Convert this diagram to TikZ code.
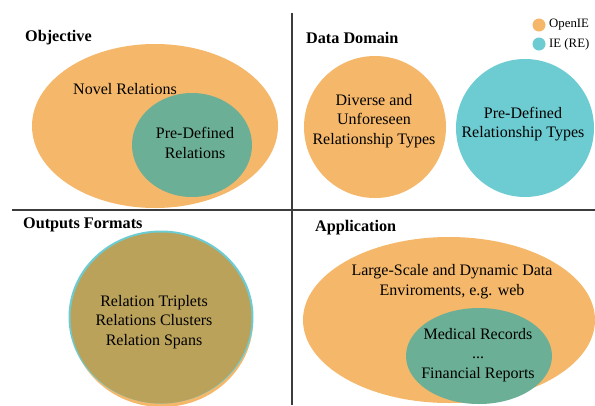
\documentclass[tikz,border=0pt]{standalone}
\usepackage{fontspec}
\setmainfont{Liberation Serif}
\definecolor{oie}{RGB}{245,184,106}
\definecolor{ie}{RGB}{108,204,210}
\definecolor{both}{RGB}{107,175,150}
\definecolor{olive}{RGB}{187,162,90}
\definecolor{divider}{RGB}{60,60,60}
\begin{document}
\begin{tikzpicture}[x=1pt,y=-1pt,
  txt/.style={font=\rmfamily\fontsize{16}{19.8}\selectfont, align=center, inner sep=0pt},
  ttl/.style={font=\rmfamily\fontsize{16.2}{19}\selectfont\bfseries, anchor=west, inner sep=0pt},
  lgd/.style={font=\rmfamily\fontsize{12.8}{15}\selectfont, anchor=west, inner sep=0pt},
  divline/.style={draw=divider, line width=1.1pt}]
\useasboundingbox[fill=white] (0,0) rectangle (595,405);
% dividers
\coordinate (vt) at (292,13);
\coordinate (vb) at (292,405);
\coordinate (hl) at (12,210);
\coordinate (hr) at (595,210);
\draw[divline] (vt) -- (vb);
\draw[divline] (hl) -- (hr);
% Objective
\node[ttl] (t1) at (25,38) {Objective};
\fill[oie] (155,126) ellipse [x radius=123, y radius=82];
\fill[both] (192,145) ellipse [x radius=60, y radius=52];
\node[txt] (nov) at (125,89) {Novel Relations};
\node[txt] (pre1) at (195,143) {Pre-Defined\\Relations};
% Data Domain
\node[ttl] (t2) at (306,38) {Data Domain};
\fill[oie] (375,127) circle [radius=71];
\fill[ie] (525,128) circle [radius=69];
\node[txt] (div) at (374,121) {Diverse and\\Unforeseen\\Relationship Types};
\node[txt] (pre2) at (523,124) {Pre-Defined\\Relationship Types};
% legend
\fill[oie] (539,25) circle [radius=6.5];
\fill[ie] (539,44) circle [radius=6.5];
\node[lgd] (l1) at (549,25) {OpenIE};
\node[lgd] (l2) at (549,44) {IE (RE)};
% Outputs Formats
\node[ttl] (t3) at (23,225) {Outputs Formats};
\fill[oie] (162,321) ellipse [x radius=91, y radius=86];
\fill[ie] (161,317) ellipse [x radius=92.5, y radius=86.5];
\fill[olive] (161,318) ellipse [x radius=90.5, y radius=85.5];
\node[txt] (out) at (154,322) {Relation Triplets\\Relations Clusters\\Relation Spans};
% Application
\node[ttl] (t4) at (315,228) {Application};
\fill[oie] (449,320) ellipse [x radius=146, y radius=83];
\fill[both] (479,356) ellipse [x radius=73, y radius=48];
\node[txt] (lsd) at (452,282) {Large-Scale and Dynamic Data\\Enviroments, e.g. web};
\node[txt] (med) at (478,355) {Medical Records\\...\\Financial Reports};
\end{tikzpicture}
\end{document}
